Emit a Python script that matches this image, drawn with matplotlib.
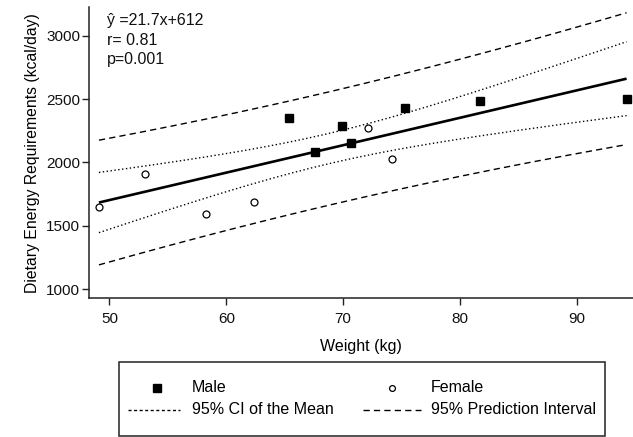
import numpy as np
import matplotlib
matplotlib.use("Agg")
import matplotlib.pyplot as plt
from matplotlib.patches import Rectangle

plt.rcParams['font.family'] = ['Liberation Sans', 'DejaVu Sans']

# ---- data ----
male_weight = [65.4, 67.6, 69.9, 70.7, 75.3, 81.7, 94.25]
male_energy = [2347, 2085, 2290, 2153, 2427, 2487, 2500]
female_weight = [49.1, 53.0, 58.3, 62.4, 72.1, 74.2]
female_energy = [1645, 1911, 1597, 1685, 2270, 2027]

eq_text = "\u0177 =21.7x+612"
r_text = "r= 0.81"
p_text = "p=0.001"
t_crit = 2.201  # t(0.975, df=11)

xticks = [50, 60, 70, 80, 90]
yticks = [1000, 1500, 2000, 2500, 3000]

# ---- regression fit ----
x = np.array(male_weight + female_weight, dtype=float)
y = np.array(male_energy + female_energy, dtype=float)
n = len(x)
slope, intercept = np.polyfit(x, y, 1)
resid = y - (slope * x + intercept)
s = np.sqrt(np.sum(resid ** 2) / (n - 2))
sxx = np.sum((x - x.mean()) ** 2)
xg = np.linspace(x.min(), x.max(), 200)
yg = slope * xg + intercept
ci = t_crit * s * np.sqrt(1 / n + (xg - x.mean()) ** 2 / sxx)
pi = t_crit * s * np.sqrt(1 + 1 / n + (xg - x.mean()) ** 2 / sxx)

W, H = 633, 437
fig = plt.figure(figsize=(W / 100, H / 100), dpi=100)
ax = fig.add_axes([89 / W, 1 - 298.3 / H, 1 - 89 / W, (298.3 - 7) / H])

dotted = (0, (1.0, 1.8))
dashed = (0, (4.5, 3.0))

ax.plot(xg, yg, color='black', lw=1.9, solid_capstyle='butt')
ax.plot(xg, yg + ci, color='black', lw=1.0, ls=dotted)
ax.plot(xg, yg - ci, color='black', lw=1.0, ls=dotted)
ax.plot(xg, yg + pi, color='black', lw=1.0, ls=dashed)
ax.plot(xg, yg - pi, color='black', lw=1.0, ls=dashed)

ax.plot(male_weight, male_energy, ls='none', marker='s', ms=5.8,
        mfc='black', mec='black', zorder=5)
ax.plot(female_weight, female_energy, ls='none', marker='o', ms=5,
        mfc='white', mec='black', mew=0.9, zorder=5)

ax.set_xlim(48.25, 94.8)
ax.set_ylim(929, 3226)
ax.set_xticks(xticks)
ax.set_yticks(yticks)
for sp in ['top', 'right']:
    ax.spines[sp].set_visible(False)
for sp in ['left', 'bottom']:
    ax.spines[sp].set_linewidth(1.1)
    ax.spines[sp].set_color('#222222')
ax.tick_params(direction='out', length=5, width=1.0, color='#222222',
               labelsize=11, labelcolor='#111111')
ax.tick_params(axis='x', pad=5)
ax.tick_params(axis='y', pad=1.5)

ax.set_xlabel("Weight (kg)", fontsize=11.5, labelpad=9)
ax.set_ylabel("Dietary Energy Requirements (kcal/day)", fontsize=11.3, labelpad=4)

# annotation text
for i, t in enumerate([eq_text, r_text, p_text]):
    fig.text(107 / W, 1 - (20.5 + 19.7 * i) / H, t, fontsize=11.5,
             ha='left', va='center', color='#111111')

# ---- legend (drawn in pixel coordinates) ----
lg = fig.add_axes([0, 0, 1, 1], zorder=-1)
lg.set_xlim(0, W)
lg.set_ylim(H, 0)
lg.axis('off')
lg.add_patch(Rectangle((119, 362), 605 - 119, 436 - 362, fill=False,
                       lw=1.1, ec='#222222'))
r1, r2 = 388, 410
lg.plot([156.7], [r1], marker='s', ms=5.5, color='black', ls='none')
lg.plot([391.7], [r1], marker='o', ms=4.2, mfc='white', mec='black', mew=0.9, ls='none')
lg.plot([128, 180], [r2, r2], color='black', lw=1.0, ls=(0, (2.2, 1.8)))
lg.plot([363, 421], [r2, r2], color='black', lw=1.0, ls=dashed)
fs = 11.5
lg.text(192, r1, "Male", fontsize=fs, va='center', ha='left')
lg.text(431, r1, "Female", fontsize=fs, va='center', ha='left')
lg.text(192, r2, "95% CI of the Mean", fontsize=fs, va='center', ha='left')
lg.text(431, r2, "95% Prediction Interval", fontsize=fs, va='center', ha='left')

fig.savefig("out.png", dpi=100)
